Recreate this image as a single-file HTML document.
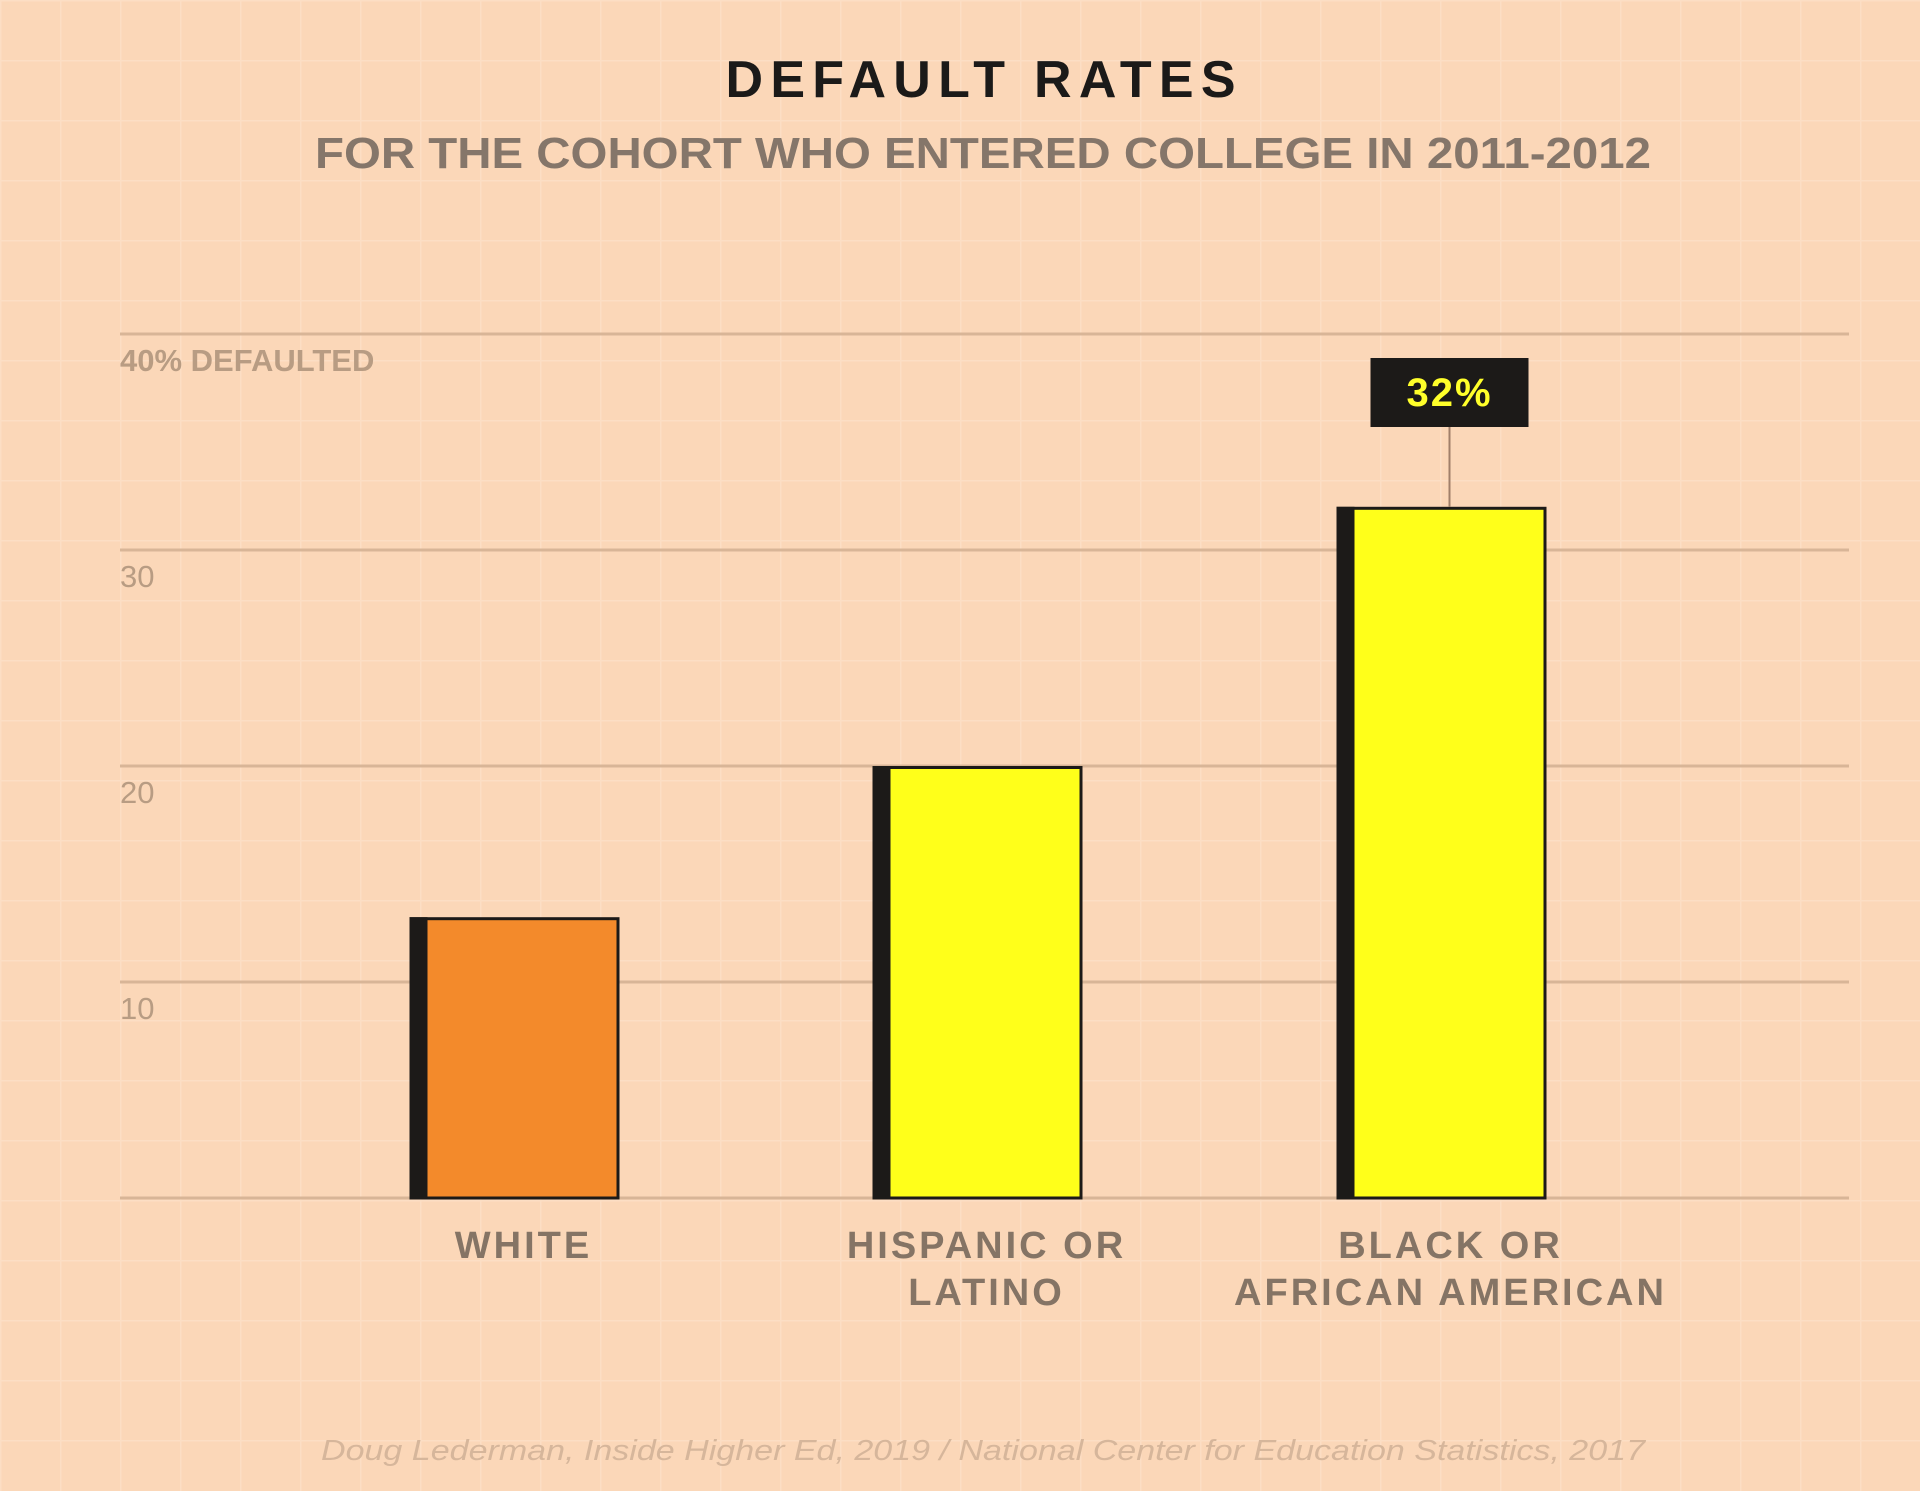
<!DOCTYPE html>
<html><head><meta charset="utf-8"><style>
html,body{margin:0;padding:0;background:#fbd7b8;}
svg{display:block;font-family:"Liberation Sans",sans-serif;}
</style></head><body>
<svg id="chart" width="1920" height="1491" viewBox="0 0 1920 1491" xmlns="http://www.w3.org/2000/svg">
<defs>
<pattern id="bggrid" width="60" height="60" patternUnits="userSpaceOnUse">
<path d="M0 0.5H60M0.5 0V60" stroke="#fde3cc" stroke-width="2" fill="none" opacity="0.6"/>
</pattern>
</defs>
<rect width="1920" height="1491" fill="#fbd7b8"/>
<rect width="1920" height="1491" fill="url(#bggrid)"/>
<text x="983" y="97" text-anchor="middle" font-size="52" font-weight="bold" fill="#1b1a19" letter-spacing="5" textLength="515" lengthAdjust="spacing">DEFAULT RATES</text>
<text x="983" y="168" text-anchor="middle" font-size="44" fill="#85766a" font-weight="bold" textLength="1336" lengthAdjust="spacingAndGlyphs">FOR THE COHORT WHO ENTERED COLLEGE IN 2011-2012</text>
<g id="grid"></g>
<g id="bars"></g>
<g id="labels"></g>
<text x="983" y="1460" text-anchor="middle" font-size="29" font-style="italic" fill="#d6b69b" textLength="1324" lengthAdjust="spacingAndGlyphs">Doug Lederman, Inside Higher Ed, 2019  / National Center for Education Statistics, 2017</text>
</svg>
<script>
const categories = ["WHITE", "HISPANIC OR|LATINO", "BLACK OR|AFRICAN AMERICAN"];
const values = [13, 20, 32];
const colors = ["#f38a2b", "#ffff1a", "#ffff1a"];
const ticks = [10, 20, 30, 40];
const tickLabels = ["10", "20", "30", "40% DEFAULTED"];
const calloutIndex = 2;
const calloutText = "32%";

const NS = "http://www.w3.org/2000/svg";
const X0 = 120, X1 = 1849, Y0 = 1198, Ytop = 334, VMAX = 40;
const y = v => Y0 - (v / VMAX) * (Y0 - Ytop);
const centers = [514.5, 977.5, 1441.5];
const bw = 210;
function mk(tag, attrs, parent) { const e = document.createElementNS(NS, tag); for (const k in attrs) e.setAttribute(k, attrs[k]); parent.appendChild(e); return e; }

const grid = document.getElementById('grid');
const base = mk('line', {x1: X0, x2: X1, y1: Y0, y2: Y0, stroke: '#d8b597', 'stroke-width': 3}, grid);


ticks.forEach((t, i) => {
  const l = mk('line', {x1: X0, x2: X1, y1: y(t), y2: y(t), stroke: '#d8b597', 'stroke-width': 3}, grid);
  
  
  const tx = mk('text', {x: X0, y: y(t) + 37, 'font-size': 31, 'font-weight': t === 40 ? 'bold' : 'normal', fill: '#b89c83'}, grid);
  tx.textContent = tickLabels[i];
  
  
});

const bars = document.getElementById('bars');
const labels = document.getElementById('labels');
values.forEach((v, i) => {
  const cx = centers[i], x = cx - bw / 2, top = y(v);
  const g = mk('g', {}, bars);
  
  
  mk('rect', {x: x + 1.5, y: top + 1.5, width: bw - 3, height: Y0 - top - 1.5, fill: colors[i], stroke: '#1c1a18', 'stroke-width': 3}, g);
  mk('rect', {x: x, y: top, width: 18, height: Y0 - top, fill: '#1c1a18'}, g);
  const lines = categories[i].split('|');
  lines.forEach((ln, j) => {
    const t = mk('text', {x: cx + 9, y: 1258 + j * 47, 'text-anchor': 'middle', 'font-size': 38, 'font-weight': 'bold', fill: '#857465', 'letter-spacing': 3}, labels);
    t.textContent = ln;
    
    
  });
  if (i === calloutIndex) {
    const cg = mk('g', {}, labels);
    
    
    const bx = cx + 8;
    mk('line', {x1: bx, x2: bx, y1: 426, y2: top, stroke: '#a07f6a', 'stroke-width': 2}, cg);
    mk('rect', {x: bx - 79, y: 358, width: 158, height: 69, fill: '#1c1a18'}, cg);
    const ct = mk('text', {x: bx, y: 406, 'text-anchor': 'middle', 'font-size': 40, 'font-weight': 'bold', fill: '#ffff2a', 'letter-spacing': 2}, cg);
    ct.textContent = calloutText;
  }
});
</script>
</body></html>
